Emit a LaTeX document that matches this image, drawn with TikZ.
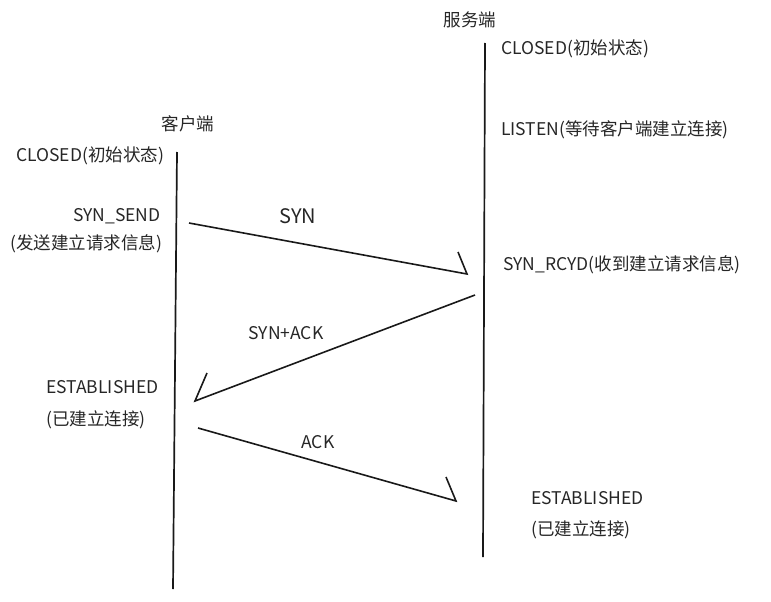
\documentclass[tikz,border=0pt]{standalone}
\usepackage{fontspec}
\setmainfont{Noto Sans CJK SC}
\begin{document}
\begin{tikzpicture}[x=1pt,y=-1pt,
  lbl/.style={inner sep=0pt,anchor=west,text=black!85,font=\fontsize{17.5}{19}\selectfont},
  msg/.style={inner sep=0pt,text=black!85,font=\fontsize{17.5}{19}\selectfont},
  life/.style={line width=1.7pt,black!90},
  sig/.style={line width=1.6pt,black!90,line join=miter}]
\useasboundingbox (0,0) rectangle (771,602);

% lifelines
\coordinate (cTop) at (177,152);
\coordinate (cBot) at (173,589);
\coordinate (sTop) at (485,43);
\coordinate (sBot) at (483,557);
\draw[life] (cTop) -- (cBot);
\draw[life] (sTop) -- (sBot);

% headers
\node[msg] (client) at (188,124) {客户端};
\node[msg] (server) at (470,20) {服务端};

% client states
\node[lbl] (cClosed) at (16,156) {CLOSED(初始状态)};
\node[lbl] (cSend) at (73,216) {SYN\_SEND};
\node[lbl] (cSendNote) at (10,244) {(发送建立请求信息)};
\node[lbl] (cEst) at (46,387) {ESTABLISHED};
\node[lbl] (cEstNote) at (46,420) {(已建立连接)};

% server states
\node[lbl] (sClosed) at (501,49) {CLOSED(初始状态)};
\node[lbl] (sListen) at (501,130) {LISTEN(等待客户端建立连接)};
\node[lbl] (sRcvd) at (503,265) {SYN\_RCYD(收到建立请求信息)};
\node[lbl] (sEst) at (531,498) {ESTABLISHED};
\node[lbl] (sEstNote) at (531,530) {(已建立连接)};

% handshake messages, each with a single hand-drawn barb
\coordinate (synA) at (189,223);
\coordinate (synB) at (467,274);
\coordinate (synC) at (458,252);
\draw[sig] (synA) -- (synB) -- (synC);
\node[msg,font=\fontsize{20}{22}\selectfont] (synL) at (298,216) {SYN};

\coordinate (saA) at (475,295);
\coordinate (saB) at (195,401);
\coordinate (saC) at (207,373);
\draw[sig] (saA) -- (saB) -- (saC);
\node[msg] (saL) at (286,333) {SYN+ACK};

\coordinate (ackA) at (198,428);
\coordinate (ackB) at (456,501);
\coordinate (ackC) at (446,477);
\draw[sig] (ackA) -- (ackB) -- (ackC);
\node[msg] (ackL) at (318,442) {ACK};
\end{tikzpicture}
\end{document}
